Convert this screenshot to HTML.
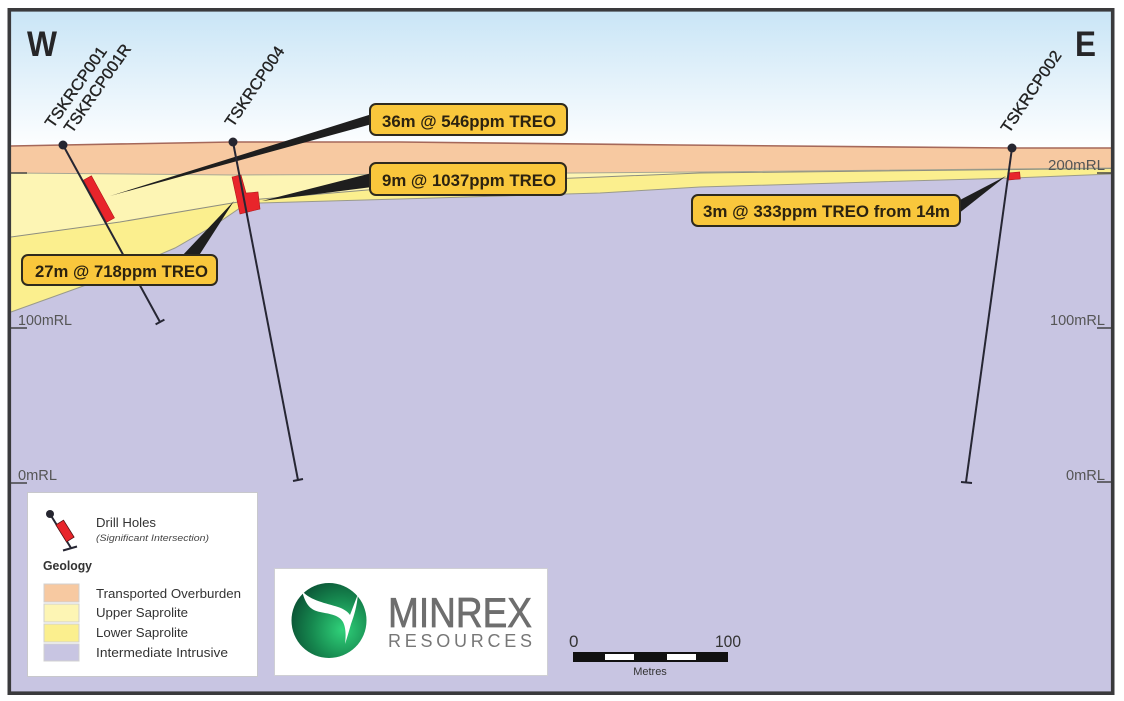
<!DOCTYPE html>
<html><head><meta charset="utf-8"><style>
html,body{margin:0;padding:0;background:#fff;}
svg{display:block;}
text{font-family:"Liberation Sans",Arial,sans-serif;}
</style></head><body>
<svg width="1124" height="701" viewBox="0 0 1124 701" xmlns="http://www.w3.org/2000/svg">
<defs>
<linearGradient id="sky" x1="0" y1="11" x2="0" y2="146" gradientUnits="userSpaceOnUse">
<stop offset="0" stop-color="#c9e5f6"/>
<stop offset="1" stop-color="#fdfeff"/>
</linearGradient>
<radialGradient id="gr" cx="0.68" cy="0.62" r="0.75">
<stop offset="0" stop-color="#30d27a"/>
<stop offset="0.55" stop-color="#16884f"/>
<stop offset="1" stop-color="#0a4f33"/>
</radialGradient>
</defs>
<rect width="1124" height="701" fill="#fff"/>
<!-- intrusive base -->
<rect x="11" y="11" width="1101" height="681" fill="#c8c5e2"/>
<!-- sky -->
<path d="M11,11 H1112 V148 L1012,148 L680,145 L400,142 L233,142 L63,145 L11,146 Z" fill="url(#sky)"/>
<!-- overburden -->
<path d="M11,146 L63,145 L233,142 L400,142 L680,145 L1012,148 L1112,148 L1112,168 L700,172 L450,174 L233,175 L11,173 Z" fill="#f7c9a1"/>
<!-- upper saprolite -->
<path d="M11,173 L233,175 L450,174 L700,172 L1112,168 L1112,168.5 L700,173 L600,177 L450,183 L250,200 L120,222 L11,237 Z" fill="#fdf5b4"/>
<!-- lower saprolite -->
<path d="M11,237 L120,222 L250,200 L450,183 L600,177 L700,173 L1112,168.5 L1112,174 L1012,178 L700,187 L600,193 L400,199 L260,203 L240,208 L215,225 L175,248 L100,280 L11,312 Z" fill="#fbef8e"/>
<!-- boundary lines -->
<polyline points="11,146 63,145 233,142 400,142 680,145 1012,148 1112,148" fill="none" stroke="#a5685a" stroke-width="1.6"/>
<polyline points="11,173 233,175 450,174 700,172 1112,168" fill="none" stroke="#a8a894" stroke-width="1"/>
<polyline points="11,237 120,222 250,200 450,183 600,177 700,173 1112,168.5" fill="none" stroke="#8e8e80" stroke-width="1"/>
<polyline points="11,312 100,280 175,248 215,225 240,208 260,203 400,199 600,193 700,187 1012,178 1112,174" fill="none" stroke="#9a9a8a" stroke-width="1"/>

<!-- RL ticks and labels -->
<g stroke="#444" stroke-width="1.5">
<line x1="11" y1="173" x2="27" y2="173"/>
<line x1="11" y1="328" x2="27" y2="328"/>
<line x1="11" y1="483" x2="27" y2="483"/>
<line x1="1097" y1="173" x2="1112" y2="173"/>
<line x1="1097" y1="328" x2="1112" y2="328"/>
<line x1="1097" y1="482" x2="1112" y2="482"/>
</g>
<g fill="#555" font-size="14.5">
<text x="18" y="325" textLength="54" lengthAdjust="spacingAndGlyphs">100mRL</text>
<text x="18" y="480" textLength="39" lengthAdjust="spacingAndGlyphs">0mRL</text>
<text x="1048" y="170" textLength="57" lengthAdjust="spacingAndGlyphs">200mRL</text>
<text x="1050" y="325" textLength="55" lengthAdjust="spacingAndGlyphs">100mRL</text>
<text x="1066" y="480" textLength="39" lengthAdjust="spacingAndGlyphs">0mRL</text>
</g>

<!-- W / E -->
<text x="27" y="56" font-size="35" font-weight="bold" fill="#262628" textLength="30" lengthAdjust="spacingAndGlyphs">W</text>
<text x="1075" y="56" font-size="35" font-weight="bold" fill="#262628" textLength="21" lengthAdjust="spacingAndGlyphs">E</text>

<!-- drill labels -->
<g fill="#222" font-size="16" stroke="#222" stroke-width="0.35">
<text transform="translate(53,129) rotate(-55)" textLength="95" lengthAdjust="spacingAndGlyphs">TSKRCP001</text>
<text transform="translate(72,134) rotate(-55)" textLength="104" lengthAdjust="spacingAndGlyphs">TSKRCP001R</text>
<text transform="translate(233,128) rotate(-56)" textLength="93" lengthAdjust="spacingAndGlyphs">TSKRCP004</text>
<text transform="translate(1009,134) rotate(-56)" textLength="95" lengthAdjust="spacingAndGlyphs">TSKRCP002</text>
</g>

<!-- leader wedges -->
<g fill="#1e1e1e">
<polygon points="372,114 372,124 110,196"/>
<polygon points="372,173 372,187 262,201"/>
<polygon points="181,257 198,257 234,201"/>
<polygon points="958,201 958,214 1006,176"/>
</g>

<!-- red intersections -->
<g fill="#e8252b" stroke="#b01818" stroke-width="0.6">
<rect x="-4.5" y="-24" width="9" height="48" transform="translate(99,199) rotate(-28.7)"/>
<polygon points="232,177 241,175 246,193 258,192 260,209 240,214"/>
<rect x="-6" y="-3.5" width="12" height="7" transform="translate(1014,176) rotate(-5)"/>
</g>

<!-- drill holes -->
<g stroke="#262633" stroke-width="2" fill="none">
<line x1="63" y1="145" x2="160" y2="322"/>
<line x1="155.6" y1="324.4" x2="164.4" y2="319.6"/>
<line x1="233" y1="142" x2="298" y2="480"/>
<line x1="293" y1="481" x2="303" y2="479"/>
<line x1="1012" y1="148" x2="966" y2="482"/>
<line x1="961" y1="482" x2="972" y2="483"/>
</g>
<g fill="#262630">
<circle cx="63" cy="145" r="4.5"/>
<circle cx="233" cy="142" r="4.5"/>
<circle cx="1012" cy="148" r="4.5"/>
</g>

<!-- callouts -->
<g fill="#f9c73c" stroke="#2e2a1e" stroke-width="2">
<rect x="370" y="104" width="197" height="31" rx="6"/>
<rect x="370" y="163" width="196" height="32" rx="6"/>
<rect x="22" y="255" width="195" height="30" rx="6"/>
<rect x="692" y="195" width="268" height="31" rx="6"/>
</g>
<g fill="#2b2210" font-size="17" font-weight="bold">
<text x="382" y="127" textLength="174" lengthAdjust="spacingAndGlyphs">36m @ 546ppm TREO</text>
<text x="382" y="186" textLength="174" lengthAdjust="spacingAndGlyphs">9m @ 1037ppm TREO</text>
<text x="35" y="277" textLength="173" lengthAdjust="spacingAndGlyphs">27m @ 718ppm TREO</text>
<text x="703" y="217" textLength="247" lengthAdjust="spacingAndGlyphs">3m @ 333ppm TREO from 14m</text>
</g>

<!-- legend -->
<rect x="27.5" y="492.5" width="230" height="184" fill="#fff" stroke="#c8c8cc" stroke-width="1"/>
<line x1="50" y1="514" x2="71" y2="548" stroke="#262633" stroke-width="2"/>
<rect x="-4.5" y="-10" width="9" height="20" transform="translate(65,531) rotate(-32)" fill="#e8252b" stroke="#551111" stroke-width="0.8"/>
<line x1="63" y1="550.5" x2="77" y2="546.5" stroke="#262633" stroke-width="2"/>
<circle cx="50" cy="514" r="4" fill="#262630"/>
<text x="96" y="527" font-size="12.5" fill="#333" textLength="60" lengthAdjust="spacingAndGlyphs">Drill Holes</text>
<text x="96" y="541" font-size="9.5" font-style="italic" fill="#444" textLength="113" lengthAdjust="spacingAndGlyphs">(Significant Intersection)</text>
<text x="43" y="570" font-size="13" font-weight="bold" fill="#333" textLength="49" lengthAdjust="spacingAndGlyphs">Geology</text>
<g stroke="#d0d0d0" stroke-width="1">
<rect x="44" y="584" width="35" height="18" fill="#f7c9a1"/>
<rect x="44" y="604" width="35" height="18" fill="#fdf5b4"/>
<rect x="44" y="624" width="35" height="18" fill="#fbef8e"/>
<rect x="44" y="644" width="35" height="17" fill="#c8c5e2"/>
</g>
<g fill="#333" font-size="13">
<text x="96" y="598" textLength="145" lengthAdjust="spacingAndGlyphs">Transported Overburden</text>
<text x="96" y="617" textLength="92" lengthAdjust="spacingAndGlyphs">Upper Saprolite</text>
<text x="96" y="637" textLength="92" lengthAdjust="spacingAndGlyphs">Lower Saprolite</text>
<text x="96" y="657" textLength="132" lengthAdjust="spacingAndGlyphs">Intermediate Intrusive</text>
</g>

<!-- logo -->
<rect x="274.5" y="568.5" width="273" height="107" fill="#fff" stroke="#cfcfd4" stroke-width="1"/>
<circle cx="329" cy="620.5" r="37.5" fill="url(#gr)"/>
<path d="M302,591 C311,601 326,603 338,607 C344,609 348,612 350,615 L358,594 C357,606 354,616 351,624 C349,631 347,638 345,644 C346,636 346,628 343,622 C339,615 330,614 320,612 C311,610 306,606 302,591 Z" fill="#fff"/>
<text x="388" y="627" font-size="42" fill="#6e6e6e" stroke="#6e6e6e" stroke-width="0.7" textLength="144" lengthAdjust="spacingAndGlyphs">MINREX</text>
<text x="388" y="647" font-size="18" fill="#777" textLength="144" lengthAdjust="spacing">RESOURCES</text>

<!-- scale bar -->
<text x="569" y="647" font-size="17" fill="#333">0</text>
<text x="715" y="647" font-size="17" fill="#333" textLength="26" lengthAdjust="spacingAndGlyphs">100</text>
<rect x="573" y="652" width="155" height="10" fill="#111"/>
<rect x="605" y="654" width="29" height="6" fill="#fff"/>
<rect x="667" y="654" width="29" height="6" fill="#fff"/>
<text x="650" y="675" font-size="11" fill="#333" text-anchor="middle">Metres</text>

<!-- frame -->
<rect x="9.3" y="9.8" width="1103.4" height="683.4" fill="none" stroke="#3a3a3c" stroke-width="3.6"/>
</svg>
</body></html>
